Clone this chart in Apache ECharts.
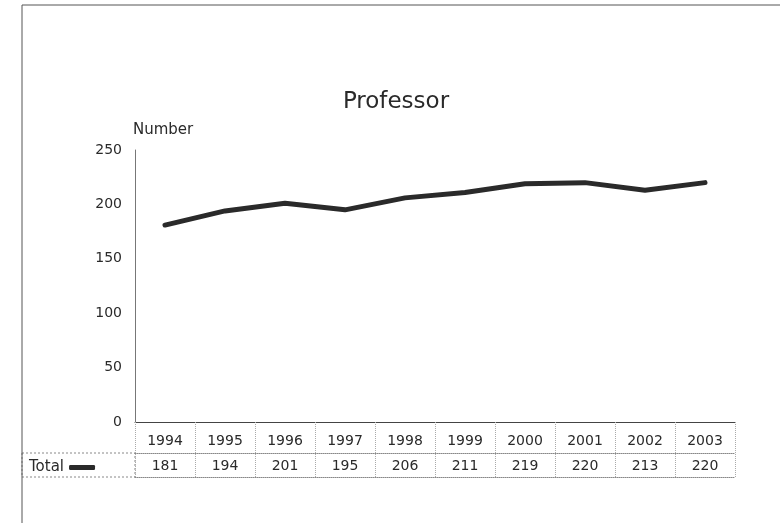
<!DOCTYPE html>
<html lang="en">
<head>
    <meta charset="utf-8">
    <title>Professor</title>
    <script src="https://cdn.jsdelivr.net/npm/echarts@6/dist/echarts.min.js"></script>
</head>
<body style="margin:0">
<div id="main" style="width: 780px; height: 523px;"></div>
<script type="text/javascript">
    // values
    var years = ['1994', '1995', '1996', '1997', '1998', '1999', '2000', '2001', '2002', '2003'];
    var totals = [181, 194, 201, 195, 206, 211, 219, 220, 213, 220];
    var seriesName = 'Total';

    var font = '"DejaVu Sans", sans-serif';
    var ink = '#2a2a2a';
    var myChart = echarts.init(document.getElementById('main'));

    var option = {
        backgroundColor: '#fff',
        animation: false,
        textStyle: { fontFamily: font, color: ink },
        title: {
            text: 'Professor',
            left: 391,
            textAlign: 'center',
            top: 86,
            textStyle: { fontFamily: font, fontSize: 23, fontWeight: 'normal', color: ink }
        },
        legend: {
            data: [seriesName],
            left: 24,
            top: 455,
            align: 'right',
            itemWidth: 26,
            itemHeight: 5,
            itemGap: 4,
            icon: 'roundRect',
            textStyle: { fontFamily: font, fontSize: 15, color: ink }
        },
        grid: { left: 135, right: 45, top: 150, bottom: 101, containLabel: false },
        xAxis: [
            {
                type: 'category',
                data: years,
                position: 'bottom',
                boundaryGap: true,
                axisLine: { lineStyle: { color: '#444', width: 1 } },
                axisTick: { show: true, inside: false, length: 55, lineStyle: { color: '#aaa', type: 'dotted' } },
                axisLabel: { fontFamily: font, fontSize: 14, color: ink, margin: 12 }
            },
            {
                type: 'category',
                data: totals.map(String),
                position: 'bottom',
                offset: 31,
                boundaryGap: true,
                axisLine: { lineStyle: { color: '#888', type: 'dotted' } },
                axisTick: { show: false },
                axisLabel: { fontFamily: font, fontSize: 14, color: ink, margin: 6 }
            },
            {
                type: 'category',
                data: years,
                position: 'bottom',
                offset: 55,
                axisLine: { lineStyle: { color: '#888', type: 'dotted' } },
                axisTick: { show: false },
                axisLabel: { show: false }
            }
        ],
        yAxis: {
            type: 'value',
            min: 0,
            max: 250,
            interval: 50,
            name: 'Number',
            nameLocation: 'end',
            nameGap: 12,
            nameTextStyle: { fontFamily: font, fontSize: 15, color: ink, align: 'left', padding: [0, 0, 0, -2] },
            axisLine: { show: true, lineStyle: { color: '#777', width: 1 } },
            axisTick: { show: false },
            splitLine: { show: false },
            axisLabel: { fontFamily: font, fontSize: 14, color: ink, margin: 13 }
        },
        graphic: [
            {
                type: 'polyline',
                shape: { points: [[22, 523], [22, 5], [780, 5]] },
                style: { stroke: '#555', lineWidth: 1, fill: null },
                silent: true
            },
            {
                type: 'rect',
                shape: { x: 22, y: 453, width: 113, height: 24 },
                style: { stroke: '#888', lineWidth: 1, lineDash: [2, 2], fill: null },
                silent: true,
                z: -1
            }
        ],
        series: [
            {
                name: seriesName,
                type: 'line',
                data: totals,
                symbol: 'none',
                itemStyle: { color: ink },
                lineStyle: { color: ink, width: 5, cap: 'round', join: 'round' }
            }
        ]
    };

    myChart.setOption(option);
</script>
</body>
</html>
